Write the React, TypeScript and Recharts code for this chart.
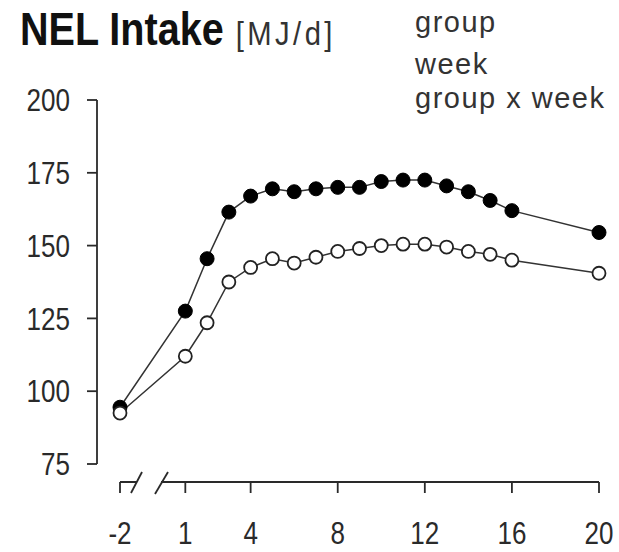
import React from 'react';
import { LineChart, Line, XAxis, YAxis } from 'recharts';

const weeks = [-2, 1, 2, 3, 4, 5, 6, 7, 8, 9, 10, 11, 12, 13, 14, 15, 16, 20];
const filledGroup = [94.5, 127.5, 145.5, 161.5, 167, 169.5, 168.5, 169.5, 170, 170, 172, 172.5, 172.5, 170.5, 168.5, 165.5, 162, 154.5];
const openGroup = [92.5, 112, 123.5, 137.5, 142.5, 145.5, 144, 146, 148, 149, 150, 150.5, 150.5, 149.5, 148, 147, 145, 140.5];
const xTicks = [-2, 1, 4, 8, 12, 16, 20];
const yTicks = [75, 100, 125, 150, 175, 200];
const legendLines = ['group', 'week', 'group x week'];

const FONT = '"Liberation Sans", Arial, Helvetica, sans-serif';
const INK = '#2a2a2a';
const SQUEEZE = 0.84; // the source uses a condensed face
const TICK_FONT = 31;
const X_TICK_SIZE = 11;
const X_TICK_MARGIN = 29;

const chartData = weeks.map((w, i) => ({ week: w, filled: filledGroup[i], open: openGroup[i] }));

const YTick = (props: any) => {
  const { x, y, payload } = props;
  return (
    <text
      transform={`translate(${x},${y}) scale(${SQUEEZE},1)`}
      dy="0.36em"
      textAnchor="end"
      fill={INK}
      fontSize={TICK_FONT}
      fontFamily={FONT}
    >
      {payload.value}
    </text>
  );
};

// x tick with the axis-break marks drawn next to the first week
const XTick = (props: any) => {
  const { x, y, payload } = props;
  const lineY = y - X_TICK_MARGIN - X_TICK_SIZE;
  return (
    <g>
      {payload.value === -2 && (
        <g stroke={INK} strokeWidth={1.8}>
          <rect x={x + 17} y={lineY - 3} width={24} height={6} fill="#fff" stroke="none" />
          <line x1={x + 11} y1={lineY + 11} x2={x + 22} y2={lineY - 10} />
          <line x1={x + 35} y1={lineY + 12} x2={x + 48} y2={lineY - 10} />
        </g>
      )}
      <text
        transform={`translate(${x},${y}) scale(${SQUEEZE},1)`}
        dy="0.71em"
        textAnchor="middle"
        fill={INK}
        fontSize={TICK_FONT}
        fontFamily={FONT}
      >
        {payload.value}
      </text>
    </g>
  );
};

export default function App() {
  return (
    <div style={{ position: 'absolute', left: 0, top: 0, width: 619, height: 552, background: '#fff' }}>
      <LineChart width={619} height={552} data={chartData} margin={{ top: 100, right: 20, bottom: 0, left: 0 }}>
        <YAxis yAxisId="gap" width={23} domain={[75, 200]} axisLine={false} tickLine={false} tick={false} />
        <YAxis
          yAxisId="shown"
          type="number"
          width={97}
          domain={[75, 200]}
          ticks={yTicks}
          interval={0}
          stroke={INK}
          tickSize={10}
          tickMargin={17}
          axisLine={{ stroke: INK, strokeWidth: 1.8 }}
          tickLine={{ stroke: INK, strokeWidth: 1.8 }}
          tick={<YTick />}
        />
        <XAxis xAxisId="gap" dataKey="week" type="number" domain={[-2, 20]} height={18} axisLine={false} tickLine={false} tick={false} />
        <XAxis
          xAxisId="shown"
          dataKey="week"
          type="number"
          domain={[-2, 20]}
          ticks={xTicks}
          interval={0}
          height={70}
          tickSize={X_TICK_SIZE}
          tickMargin={X_TICK_MARGIN}
          axisLine={{ stroke: INK, strokeWidth: 1.8 }}
          tickLine={{ stroke: INK, strokeWidth: 1.8 }}
          tick={<XTick />}
        />
        <Line
          xAxisId="shown"
          yAxisId="shown"
          type="linear"
          dataKey="filled"
          stroke="#333"
          strokeWidth={1.5}
          dot={{ r: 7, fill: '#000', stroke: '#000', strokeWidth: 1 }}
          isAnimationActive={false}
        />
        <Line
          xAxisId="shown"
          yAxisId="shown"
          type="linear"
          dataKey="open"
          stroke="#333"
          strokeWidth={1.5}
          dot={{ r: 6.5, fill: '#fff', stroke: '#222', strokeWidth: 1.8 }}
          isAnimationActive={false}
        />
      </LineChart>
      <svg width={619} height={130} style={{ position: 'absolute', left: 0, top: 0, pointerEvents: 'none' }}>
        <text transform={`translate(20,45) scale(${SQUEEZE + 0.02},1)`} fontFamily={FONT} fill="#111">
          <tspan fontSize={46} fontWeight="bold">NEL Intake</tspan>
          <tspan fontSize={34} dx={14} letterSpacing={4} fill="#333">[MJ/d]</tspan>
        </text>
        {legendLines.map((t, i) => (
          <text key={t} x={415} y={[32, 74, 108][i]} fontFamily={FONT} fontSize={29} letterSpacing={1.5} fill="#333">
            {t}
          </text>
        ))}
      </svg>
    </div>
  );
}
